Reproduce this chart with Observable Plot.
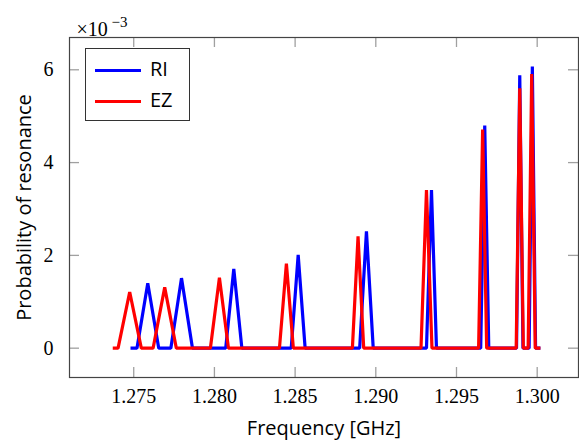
<!DOCTYPE html>
<html><head><meta charset="utf-8">
<script src="https://cdn.jsdelivr.net/npm/d3@7"></script>
<script src="https://cdn.jsdelivr.net/npm/@observablehq/plot@0.6"></script>
<style>
body{margin:0;background:#fff}
#wrap{position:relative;width:579px;height:448px;overflow:hidden}
#legend{position:absolute;left:85px;top:48px;width:105px;height:73px;border:1px solid #333;background:#fff;box-sizing:border-box;font-family:"Open Sans",sans-serif;font-size:20px;color:#000}
#legend .sw{position:absolute;left:9px;width:46px;height:3px}
#legend .lb{position:absolute;left:64px;line-height:20px}
</style></head>
<body><div id="wrap"></div>
<script>
// Series: frequency [GHz] and probability of resonance (×10^-3)
const riFreq = [1.2748, 1.2752, 1.27587, 1.27655, 1.2773, 1.27796, 1.27864, 1.2807, 1.2812, 1.2817,
  1.28476, 1.28519, 1.28562, 1.289, 1.28942, 1.28984, 1.29314, 1.29345, 1.29376,
  1.2965, 1.29675, 1.297, 1.29872, 1.29892, 1.29912, 1.2995, 1.2997, 1.2999, 1.3002];
const riProb = [0, 0, 1.40, 0, 0, 1.51, 0, 0, 1.71, 0,
  0, 2.01, 0, 0, 2.52, 0, 0, 3.41, 0,
  0, 4.80, 0, 0, 5.88, 0, 0, 6.07, 0, 0];
const ezFreq = [1.2737, 1.27403, 1.27475, 1.27547, 1.2762, 1.27692, 1.27764, 1.27975, 1.28031, 1.28087,
  1.28403, 1.28446, 1.28489, 1.28855, 1.2889, 1.28925, 1.2928, 1.29314, 1.29348,
  1.29637, 1.29662, 1.29687, 1.2987, 1.29892, 1.29914, 1.29944, 1.29966, 1.29988, 1.3002];
const ezProb = [0, 0, 1.21, 0, 0, 1.31, 0, 0, 1.52, 0,
  0, 1.82, 0, 0, 2.41, 0, 0, 3.41, 0,
  0, 4.71, 0, 0, 5.60, 0, 0, 5.91, 0, 0];
const seriesNames = ["RI", "EZ"];
const seriesColors = ["#0000ff", "#ff0000"];
const xTicks = [1.275, 1.280, 1.285, 1.290, 1.295, 1.300];
const yTicks = [0, 2, 4, 6];
const xLabel = "Frequency [GHz]";
const yLabel = "Probability of resonance";
const scaleBase = "×10";
const scaleExp = "−3";

const ri = riFreq.map((f, i) => ({f, p: riProb[i]}));
const ez = ezFreq.map((f, i) => ({f, p: ezProb[i]}));

const serif = "'Liberation Serif', serif";
const sans = "'Open Sans', sans-serif";
const innerH = 448 - 37 - 71, innerW = 579 - 69 - 1, tk = 10;

const chart = Plot.plot({
  width: 579, height: 448,
  marginLeft: 69, marginRight: 1, marginTop: 37, marginBottom: 71,
  style: {background: "white", overflow: "visible"},
  x: {domain: [1.27102, 1.30256]},
  y: {domain: [-0.632, 6.696]},
  marks: [
    Plot.ruleX(xTicks, {x: d => d, insetTop: innerH - tk, stroke: "#a0a0a0", strokeWidth: 1.3}),
    Plot.ruleX(xTicks, {x: d => d, insetBottom: innerH - tk, stroke: "#a0a0a0", strokeWidth: 1.3}),
    Plot.ruleY(yTicks, {y: d => d, insetRight: innerW - tk, stroke: "#a0a0a0", strokeWidth: 1.3}),
    Plot.ruleY(yTicks, {y: d => d, insetLeft: innerW - tk, stroke: "#a0a0a0", strokeWidth: 1.3}),
    Plot.line(ri, {x: "f", y: "p", stroke: seriesColors[0], strokeWidth: 3.2, strokeLinejoin: "miter", strokeLinecap: "butt"}),
    Plot.line(ez, {x: "f", y: "p", stroke: seriesColors[1], strokeWidth: 3.2, strokeLinejoin: "miter", strokeLinecap: "butt"}),
    Plot.frame({stroke: "#444", strokeWidth: 1.2}),
    Plot.axisX(xTicks, {tickSize: 0, tickPadding: 11, tickFormat: d3.format(".3f"), fontFamily: serif, fontSize: 20, label: null, fill: "#000"}),
    Plot.axisY(yTicks, {tickSize: 0, tickPadding: 16, tickFormat: d3.format("d"), fontFamily: serif, fontSize: 20, label: null, fill: "#000"}),
    Plot.text([xLabel], {text: d => d, frameAnchor: "bottom", textAnchor: "middle", dy: 57, fontFamily: sans, fontSize: 20, fill: "#000"}),
    Plot.text([yLabel], {text: d => d, frameAnchor: "left", textAnchor: "middle", dx: -45, rotate: -90, fontFamily: sans, fontSize: 20, fill: "#000"}),
    Plot.text([scaleBase], {text: d => d, frameAnchor: "top-left", textAnchor: "start", dx: 7, dy: -16, fontFamily: serif, fontSize: 20, fill: "#000"}),
    Plot.text([scaleExp], {text: d => d, frameAnchor: "top-left", textAnchor: "start", dx: 42, dy: -21, fontFamily: serif, fontSize: 15, fill: "#000"})
  ]
});
const wrap = document.getElementById("wrap");
wrap.appendChild(chart);

const leg = document.createElement("div");
leg.id = "legend";
const rowsY = [21, 52];
seriesNames.forEach((n, i) => {
  const sw = document.createElement("div");
  sw.className = "sw"; sw.style.top = (rowsY[i] - 1.5) + "px"; sw.style.background = seriesColors[i];
  const lb = document.createElement("div");
  lb.className = "lb"; lb.style.top = (rowsY[i] - 11) + "px"; lb.textContent = n;
  leg.appendChild(sw); leg.appendChild(lb);
});
wrap.appendChild(leg);
</script>
</body></html>
